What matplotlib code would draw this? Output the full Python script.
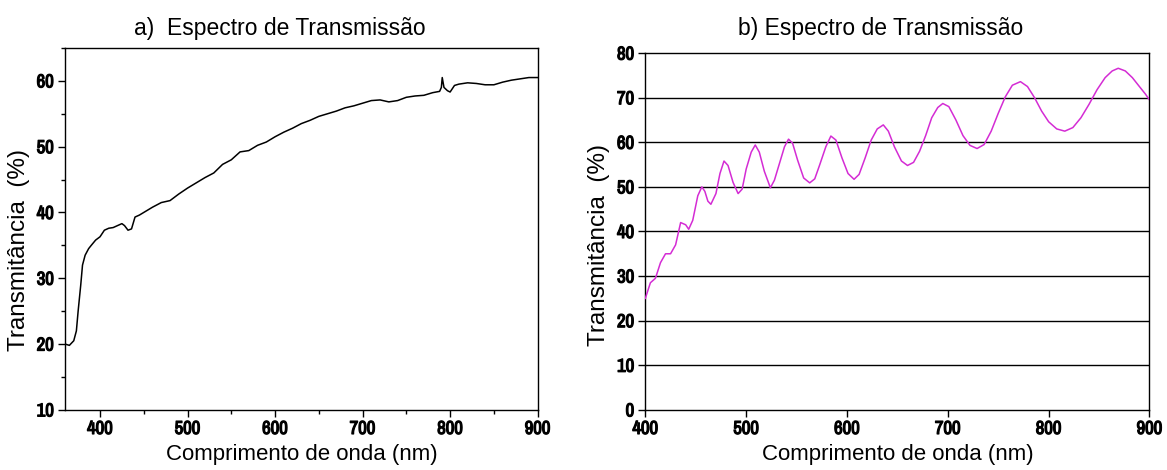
import matplotlib
matplotlib.use("Agg")
import matplotlib.pyplot as plt
import matplotlib.patheffects as pe
from matplotlib.ticker import MultipleLocator
from matplotlib import font_manager

# ---- data: panel a ----
wl_a = [360, 365, 370, 373, 375, 378, 380, 383, 387, 390, 395, 400, 405, 410, 415,
        420, 425, 428, 432, 436, 440, 445, 450, 460, 470, 480, 490, 500, 510, 520,
        530, 540, 550, 560, 570, 580, 590, 600, 610, 620, 630, 640, 650, 660, 670,
        680, 690, 700, 710, 720, 730, 740, 750, 760, 770, 780, 788, 790, 791, 793,
        797, 800, 805, 810, 820, 830, 840, 850, 860, 870, 880, 890, 900]
tr_a = [20.0, 19.8, 20.5, 22.0, 25.0, 29.0, 32.0, 33.5, 34.5, 35.0, 35.8, 36.3, 37.3, 37.6, 37.7,
        38.0, 38.3, 38.0, 37.3, 37.5, 39.3, 39.6, 40.0, 40.8, 41.5, 41.8, 42.8, 43.7, 44.5, 45.3,
        46.0, 47.3, 48.0, 49.2, 49.4, 50.2, 50.7, 51.5, 52.2, 52.8, 53.5, 54.0, 54.6, 55.0, 55.4,
        55.9, 56.2, 56.6, 57.0, 57.1, 56.8, 57.0, 57.5, 57.7, 57.8, 58.2, 58.4, 59.0, 60.5, 59.0,
        58.5, 58.3, 59.3, 59.5, 59.7, 59.6, 59.4, 59.4, 59.8, 60.1, 60.3, 60.5, 60.5]

# ---- data: panel b ----
wl_b = [400, 405, 410, 415, 420, 425, 430, 435, 440, 443, 447, 452, 456, 459, 462,
        465, 470, 474, 478, 482, 487, 492, 496, 500, 505, 509, 513, 518, 524, 528,
        534, 538, 542, 546, 551, 557, 563, 568, 573, 579, 584, 589, 595, 601, 607,
        612, 618, 624, 630, 636, 641, 647, 654, 660, 666, 672, 678, 684, 690, 695,
        701, 708, 715, 722, 729, 736, 743, 750, 757, 764, 772, 779, 786, 793, 800,
        808, 816, 824, 832, 840, 848, 856, 863, 869, 876, 883, 890, 896, 900]
tr_b = [25.0, 28.5, 29.5, 33.0, 35.0, 35.0, 37.0, 42.0, 41.5, 40.5, 42.5, 48.0, 50.0, 49.0, 46.8,
        46.1, 48.5, 53.0, 55.8, 54.8, 51.0, 48.5, 49.5, 54.0, 57.8, 59.4, 57.8, 53.5, 49.8, 51.5,
        56.0, 59.0, 60.7, 59.8, 56.0, 52.0, 50.9, 51.8, 55.0, 59.0, 61.4, 60.5, 56.5, 53.0, 51.7,
        52.8, 56.5, 60.5, 63.0, 63.9, 62.5, 59.0, 55.8, 54.8, 55.5, 58.0, 61.5, 65.5, 67.8, 68.7,
        68.0, 65.0, 61.5, 59.3, 58.6, 59.5, 62.5, 66.5, 70.2, 72.8, 73.6, 72.5, 70.0, 67.0, 64.6,
        63.0, 62.5, 63.3, 65.5, 68.5, 71.8, 74.5, 76.0, 76.6, 76.0, 74.5, 72.5, 70.8, 69.5]

title_a = "a)  Espectro de Transmissão"
title_b = "b) Espectro de Transmissão"
xlabel = "Comprimento de onda (nm)"
ylabel_a = "Transmitância  (%)"
ylabel_b = "Transmitância  (%)"

names = {f.name for f in font_manager.fontManager.ttflist}
tick_family = "DejaVu Sans"
for cand in ("Archivo Narrow", "Roboto Condensed", "Liberation Sans Narrow"):
    if cand in names:
        tick_family = cand
        break
text_family = "Liberation Sans" if "Liberation Sans" in names else "DejaVu Sans"

fig = plt.figure(figsize=(11.67, 4.70), dpi=100)

ax1 = fig.add_axes([0.0557, 0.128, 0.405, 0.770])
ax2 = fig.add_axes([0.553, 0.128, 0.432, 0.759])

# panel a
ax1.plot(wl_a, tr_a, color="black", lw=1.1)
ax1.set_xlim(360, 900)
ax1.set_ylim(10, 65)
ax1.xaxis.set_major_locator(MultipleLocator(100))
ax1.xaxis.set_minor_locator(MultipleLocator(50))
ax1.yaxis.set_major_locator(MultipleLocator(10))
ax1.yaxis.set_minor_locator(MultipleLocator(5))
ax1.set_title(title_a, fontsize=16.5, family=text_family, pad=9, x=0.455)
ax1.set_ylabel(ylabel_a, fontsize=17.5, family=text_family, labelpad=5, y=0.442)

# panel b
for v in range(10, 80, 10):
    ax2.axhline(v, color="black", lw=1.0, zorder=1)
ax2.plot(wl_b, tr_b, color="#d42cd4", lw=1.1, zorder=3)
ax2.set_xlim(400, 900)
ax2.set_ylim(0, 80)
ax2.xaxis.set_major_locator(MultipleLocator(100))
ax2.yaxis.set_major_locator(MultipleLocator(10))
ax2.set_title(title_b, fontsize=16.5, family=text_family, pad=13, x=0.467)
ax2.set_ylabel(ylabel_b, fontsize=17.5, family=text_family, labelpad=5, y=0.462)

bold = [pe.withStroke(linewidth=0.9, foreground="black")]
for ax in (ax1, ax2):
    for s in ax.spines.values():
        s.set_linewidth(1.0)
        s.set_color("black")
    ax.tick_params(which="major", direction="out", length=5, width=1.0,
                   labelsize=13.5, pad=3)
    ax.tick_params(which="minor", direction="out", length=3, width=1.0)
    for lab in ax.get_xticklabels() + ax.get_yticklabels():
        lab.set_family(tick_family)
        lab.set_fontweight("bold")
        lab.set_path_effects(bold)
    ax.set_xlabel(xlabel, fontsize=16, family=text_family, labelpad=5)

fig.savefig("out.png", dpi=100)
